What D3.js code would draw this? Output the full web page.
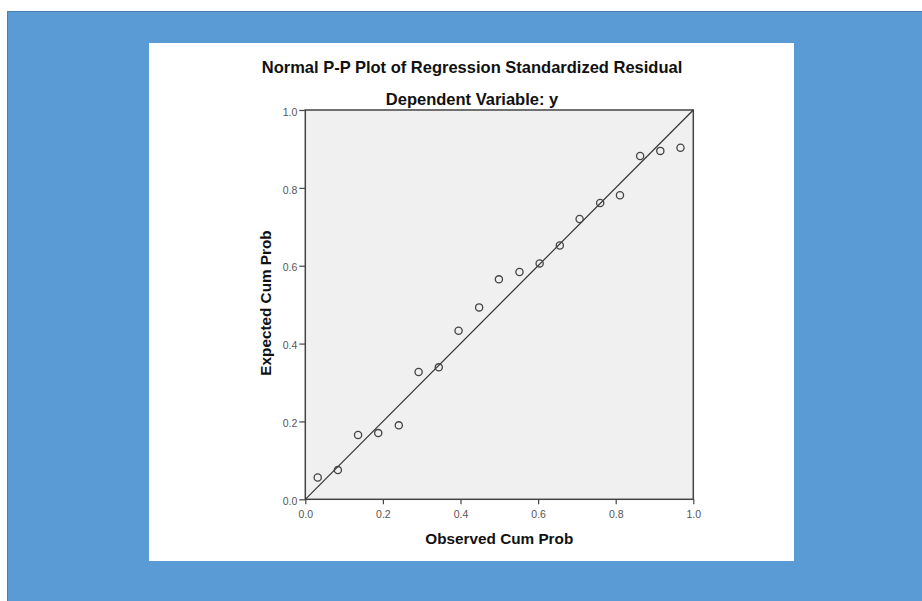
<!DOCTYPE html>
<html><head><meta charset="utf-8">
<script src="https://cdn.jsdelivr.net/npm/d3@7"></script>
<style>html,body{margin:0;padding:0;background:#fff;}svg{display:block;}</style>
</head><body>
<script>
// Data
const observedCumProb = [0.032,0.084,0.136,0.188,0.241,0.292,0.344,0.395,0.448,0.499,0.552,0.604,0.656,0.707,0.760,0.811,0.863,0.915,0.967];
const expectedCumProb = [0.056,0.075,0.165,0.170,0.190,0.327,0.339,0.433,0.493,0.565,0.584,0.606,0.652,0.720,0.761,0.781,0.882,0.895,0.903];
const tickValues = [0.0,0.2,0.4,0.6,0.8,1.0];
const titleText = "Normal P-P Plot of Regression Standardized Residual";
const subtitleText = "Dependent Variable: y";
const xLabelText = "Observed Cum Prob";
const yLabelText = "Expected Cum Prob";

const W = 922, H = 601;
const svg = d3.select("body").append("svg").attr("width", W).attr("height", H);

// slide background
svg.append("rect").attr("x",7).attr("y",11).attr("width",W-7).attr("height",H-11).attr("fill","#5b9bd5");
svg.append("line").attr("x1",7.5).attr("y1",11).attr("x2",7.5).attr("y2",H).attr("stroke","#4a80b8").attr("stroke-width",1);
svg.append("line").attr("x1",7).attr("y1",11.5).attr("x2",W).attr("y2",11.5).attr("stroke","#4a80b8").attr("stroke-width",1);
// white panel
svg.append("rect").attr("x",149).attr("y",43).attr("width",645).attr("height",518).attr("fill","#ffffff");

const L = 305.3, R = 693.3, T = 110, B = 499.3;
const x = d3.scaleLinear().domain([0,1]).range([L,R]);
const y = d3.scaleLinear().domain([0,1]).range([B,T]);

svg.append("rect").attr("x",L).attr("y",T).attr("width",R-L).attr("height",B-T).attr("fill","#f0f0f0");

const ff = "Liberation Sans, Arial, sans-serif";
const fmt = d3.format(".1f");
const xAxis = svg.append("g").attr("transform",`translate(0,${B})`)
  .call(d3.axisBottom(x).tickValues(tickValues).tickFormat(fmt).tickSize(5).tickPadding(6));
const yAxis = svg.append("g").attr("transform",`translate(${L},0)`)
  .call(d3.axisLeft(y).tickValues(tickValues).tickFormat(fmt).tickSize(6).tickPadding(2));
[xAxis,yAxis].forEach(g=>{
  g.select(".domain").remove();
  g.selectAll(".tick line").attr("stroke","#444").attr("stroke-width",1.2);
  g.selectAll(".tick text").attr("fill","#555").attr("font-family",ff).attr("font-size",10.5);
});
yAxis.selectAll(".tick text").attr("dy","0.5em");

// frame
svg.append("rect").attr("x",L).attr("y",T).attr("width",R-L).attr("height",B-T)
  .attr("fill","none").attr("stroke","#444").attr("stroke-width",1.5);

// reference line
svg.append("line").attr("x1",x(0)).attr("y1",y(0)).attr("x2",x(1)).attr("y2",y(1))
  .attr("stroke","#333").attr("stroke-width",1.2);

// points
svg.append("g").selectAll("circle").data(observedCumProb.map((d,i)=>[d,expectedCumProb[i]]))
  .join("circle").attr("cx",d=>x(d[0])).attr("cy",d=>y(d[1])).attr("r",3.6)
  .attr("fill","none").attr("stroke","#444").attr("stroke-width",1.3);

svg.append("text").attr("x",472).attr("y",72.5).attr("text-anchor","middle")
  .attr("font-family",ff).attr("font-weight","bold").attr("font-size",16.5).attr("fill","#111").text(titleText);
svg.append("text").attr("x",472).attr("y",104.5).attr("text-anchor","middle")
  .attr("font-family",ff).attr("font-weight","bold").attr("font-size",16.5).attr("fill","#111").text(subtitleText);
svg.append("text").attr("x",(L+R)/2).attr("y",544).attr("text-anchor","middle")
  .attr("font-family",ff).attr("font-weight","bold").attr("font-size",15.3).attr("fill","#111").text(xLabelText);
svg.append("text").attr("transform","translate(270.7,303) rotate(-90)").attr("text-anchor","middle")
  .attr("font-family",ff).attr("font-weight","bold").attr("font-size",15.3).attr("fill","#111").text(yLabelText);
</script>
</body></html>
